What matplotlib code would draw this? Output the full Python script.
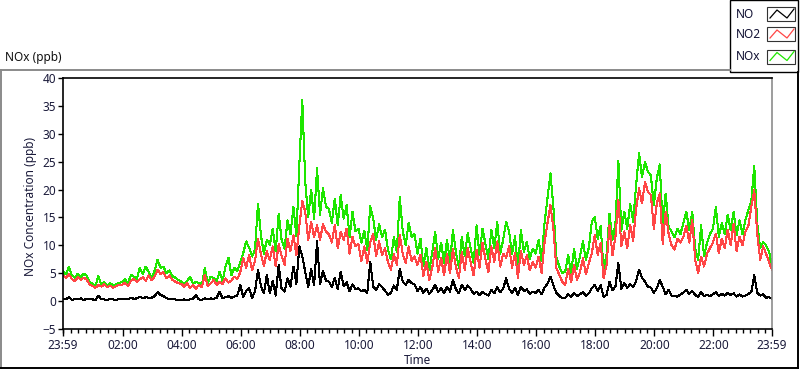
import numpy as np
import matplotlib.pyplot as plt
from matplotlib.lines import Line2D
from matplotlib.patches import Rectangle

plt.rcParams['font.family'] = ['Noto Sans', 'DejaVu Sans']

# one reading every 6 minutes, starting 23:59 the evening before
step_min = 6

# NO2 (ppb), one row per hour
no2_ppb = [
    4.6, 4.2, 4.8, 4.0, 3.6, 4.3, 3.8, 4.2, 3.9, 3.0,
    2.7, 2.4, 2.9, 2.6, 3.0, 2.5, 2.8, 2.4, 2.7, 2.9,
    2.9, 3.3, 2.7, 3.6, 4.0, 3.4, 3.9, 4.3, 3.6, 4.6,
    3.7, 4.4, 5.6, 4.9, 5.2, 4.1, 4.6, 3.8, 3.5, 3.2,
    3.1, 2.6, 3.2, 2.4, 2.8, 2.2, 2.9, 2.5, 4.7, 2.7,
    3.2, 3.8, 2.9, 3.5, 3.1, 4.1, 3.3, 3.7, 4.4, 3.9,
    5.2, 7.7, 6.0, 8.3, 5.5, 7.2, 11.2, 8.4, 6.3, 8.9,
    7.4, 9.8, 6.2, 10.2, 8.1, 6.5, 11.2, 9.0, 11.8, 8.2,
    13.5, 18.0, 16.0, 11.0, 14.2, 11.5, 13.6, 11.0, 13.8, 12.5,
    12.0, 10.5, 13.6, 9.5, 12.4, 11.0, 13.0, 8.5, 11.5, 9.8,
    10.2, 7.2, 9.8, 6.8, 10.5, 12.0, 8.0, 10.7, 8.2, 9.5,
    7.0, 5.6, 8.4, 6.5, 11.9, 8.5, 6.8, 9.8, 7.2, 8.0,
    6.5, 8.3, 4.5, 7.0, 3.8, 6.0, 9.5, 5.2, 7.8, 4.6,
    8.5, 5.0, 9.3, 6.2, 4.1, 8.8, 5.6, 9.5, 6.9, 4.6,
    9.2, 6.0, 10.5, 7.5, 5.2, 9.8, 7.0, 10.7, 6.2, 8.5,
    7.8, 9.9, 6.0, 8.6, 4.2, 9.0, 6.4, 8.2, 5.5, 7.0,
    6.0, 8.0, 5.0, 10.5, 14.0, 17.2, 13.0, 5.9, 4.7, 3.5,
    2.9, 5.8, 3.4, 6.5, 3.8, 5.2, 7.7, 4.8, 6.8, 8.6,
    11.8, 8.3, 10.5, 4.1, 6.5, 13.6, 8.2, 11.5, 18.1, 9.8,
    12.5, 9.5, 13.6, 10.8, 16.6, 20.2, 17.5, 21.4, 19.6, 19.0,
    13.0, 17.5, 19.3, 10.3, 16.0, 12.1, 10.0, 9.2, 11.2, 10.5,
    11.5, 13.5, 10.5, 14.5, 7.4, 5.0, 8.0, 6.2, 8.5, 9.5,
    10.5, 12.1, 8.6, 11.2, 9.5, 12.8, 10.0, 13.9, 9.0, 11.5,
    10.0, 12.5, 13.5, 16.9, 19.9, 12.1, 7.4, 9.8, 8.5, 7.0,
    5.6,
]

# NOx (ppb)
nox_ppb = [
    5.3, 4.8, 6.1, 4.6, 4.2, 4.9, 4.3, 4.9, 4.6, 3.5,
    3.1, 2.8, 4.5, 2.9, 3.4, 2.8, 3.2, 2.9, 3.0, 3.3,
    3.4, 3.9, 3.2, 4.7, 4.4, 3.9, 6.0, 4.8, 6.2, 5.2,
    4.3, 5.4, 7.4, 6.0, 6.2, 5.0, 5.5, 4.5, 4.2, 3.8,
    3.5, 3.0, 3.6, 4.4, 3.2, 3.4, 3.3, 2.9, 5.9, 3.2,
    4.4, 4.1, 3.5, 5.3, 3.6, 6.2, 7.8, 4.6, 6.0, 5.4,
    7.0, 8.6, 10.7, 9.6, 8.0, 9.2, 17.5, 11.8, 8.5, 11.0,
    10.1, 13.0, 8.9, 15.7, 11.0, 9.4, 14.5, 12.0, 16.9, 11.6,
    24.4, 36.1, 21.4, 15.0, 20.0, 14.8, 23.8, 15.5, 20.2, 17.0,
    16.5, 14.0, 18.4, 13.6, 19.0, 14.8, 17.2, 11.5, 16.0, 12.5,
    13.0, 10.5, 12.6, 9.2, 17.0, 14.8, 11.0, 13.8, 11.5, 12.8,
    9.2, 7.5, 11.5, 8.8, 18.7, 12.5, 10.0, 14.0, 11.5, 12.0,
    8.5, 11.2, 6.2, 9.5, 5.5, 8.8, 12.4, 7.5, 10.5, 6.8,
    11.0, 7.0, 12.7, 8.8, 6.0, 11.5, 8.0, 12.2, 9.4, 6.8,
    13.6, 8.2, 13.0, 10.2, 7.5, 12.8, 9.5, 14.2, 8.5, 11.0,
    14.2, 12.5, 8.4, 11.6, 6.0, 12.7, 8.8, 10.6, 7.6, 9.4,
    8.5, 11.0, 7.2, 14.0, 18.5, 22.9, 16.8, 7.9, 6.2, 5.0,
    5.3, 8.3, 5.0, 9.4, 5.8, 8.0, 10.7, 7.4, 9.6, 14.2,
    15.1, 11.2, 13.5, 5.6, 8.4, 15.7, 11.0, 14.0, 25.1, 12.6,
    16.0, 13.0, 17.5, 14.2, 20.8, 26.5, 22.2, 25.0, 23.2, 22.5,
    17.2, 22.0, 24.5, 13.5, 19.3, 13.3, 12.5, 11.5, 13.0, 12.0,
    14.0, 16.0, 12.8, 16.0, 9.5, 7.4, 13.6, 8.0, 10.5, 12.0,
    13.0, 16.9, 11.5, 14.0, 12.0, 15.5, 12.8, 16.0, 11.8, 14.5,
    12.0, 14.6, 16.3, 18.0, 24.2, 14.0, 9.5, 10.6, 10.0, 8.9,
    6.2,
]

# NO (ppb)
no_ppb = [
    0.4, 0.3, 0.7, 0.2, 0.4, 0.3, 0.5, 0.2, 0.4, 0.3,
    0.3, 0.2, 1.0, 0.3, 0.3, 0.2, 0.4, 0.3, 0.2, 0.4,
    0.3, 0.4, 0.3, 0.6, 0.4, 0.5, 0.8, 0.5, 0.7, 0.6,
    0.6, 0.9, 1.6, 1.1, 0.9, 0.5, 0.4, 0.3, 0.3, 0.2,
    0.2, 0.3, 0.2, 0.3, 0.4, 1.1, 0.3, 0.2, 0.5, 0.3,
    0.5, 0.4, 0.6, 1.7, 0.5, 0.7, 0.9, 0.6, 0.8, 1.0,
    2.9, 0.8, 1.8, 2.3, 0.6, 1.7, 5.6, 2.7, 1.4, 4.7,
    1.4, 3.6, 1.0, 6.5, 2.2, 1.7, 4.1, 2.6, 6.2, 3.1,
    9.8, 8.0, 5.3, 2.5, 5.8, 2.8, 10.7, 3.0, 5.4, 3.7,
    3.5, 2.5, 4.2, 2.2, 5.3, 2.7, 3.4, 1.8, 3.0, 2.1,
    2.3, 1.8, 2.0, 1.5, 7.1, 2.6, 2.0, 3.0, 2.5, 1.9,
    1.1, 1.5, 2.8, 2.0, 5.8, 3.5, 2.9, 3.8, 3.2, 3.0,
    1.8, 2.5, 1.5, 2.2, 1.3, 2.0, 2.9, 1.6, 2.4, 1.4,
    2.6, 1.7, 3.8, 2.1, 1.4, 2.9, 2.0, 2.8, 2.2, 1.3,
    1.7, 1.1, 1.6, 1.3, 1.0, 2.0, 1.4, 2.5, 1.6, 2.2,
    4.1, 2.2, 1.5, 2.4, 1.1, 2.6, 1.8, 2.1, 1.3, 1.7,
    1.5, 2.0, 1.2, 2.4, 3.1, 4.4, 2.8, 1.5, 0.9, 0.6,
    0.6, 1.2, 0.7, 1.5, 0.9, 1.2, 1.6, 1.0, 1.4, 2.3,
    2.9, 1.8, 2.9, 0.8, 1.1, 3.5, 2.0, 2.6, 6.8, 2.2,
    3.2, 2.4, 3.0, 2.5, 3.6, 5.6, 4.2, 3.5, 2.6, 2.4,
    1.5, 2.3, 3.8, 2.6, 1.2, 2.0, 1.0, 0.9, 0.8, 1.2,
    1.5, 2.0, 1.3, 1.8, 1.1, 0.8, 1.6, 0.9, 1.1, 0.9,
    1.2, 1.6, 0.9, 1.3, 1.0, 1.5, 1.1, 1.4, 0.8, 1.2,
    0.8, 1.0, 1.3, 1.6, 4.7, 1.5, 1.0, 1.2, 0.6, 0.7,
    0.4,
]

time_labels = ['23:59', '02:00', '04:00', '06:00', '08:00', '10:00', '12:00',
               '14:00', '16:00', '18:00', '20:00', '22:00', '23:59']
series_names = ['NO', 'NO2', 'NOx']
series_colors = ['black', '#ff4646', '#1ee600']

W, H = 800, 369


def fx(px):
    return px / W


def fy(py):
    return 1 - py / H


# minutes after the 23:59 start for each label
start = 23 * 60 + 59
label_min = [(int(s[:2]) * 60 + int(s[3:]) - start) % 1440 for s in time_labels]
label_min[-1] = 1440
minor_min = np.arange(1, 1440, 15)

t = np.arange(len(nox_ppb)) * step_min

fig = plt.figure(figsize=(W / 100, H / 100), dpi=100)
ax = fig.add_axes([fx(63), 1 - 329 / H, fx(709), 251 / H])

# crisp 1px traces like the original instrument panel
ax.plot(t, nox_ppb, color=series_colors[2], lw=0.75, antialiased=False)
ax.plot(t, no2_ppb, color=series_colors[1], lw=0.75, antialiased=False)
ax.plot(t, no_ppb, color=series_colors[0], lw=0.75, antialiased=False)

ax.set_xlim(0, 1440)
ax.set_ylim(-5, 40)
ax.set_yticks(range(-5, 41, 5))
ax.set_xticks(label_min)
ax.set_xticklabels(time_labels)
ax.set_xticks(minor_min, minor=True)

tick_col = '#1a1a3a'
ax.tick_params(axis='x', which='major', length=5, width=1, pad=2,
               labelsize=8.5, labelcolor=tick_col)
ax.tick_params(axis='x', which='minor', length=3, width=1)
ax.tick_params(axis='y', length=3.5, width=1, pad=1.5,
               labelsize=8.5, labelcolor=tick_col)

for side in ['top', 'left', 'bottom']:
    ax.spines[side].set_color('black')
    ax.spines[side].set_linewidth(1.2)
ax.spines['right'].set_color('#8c8c8c')
ax.spines['right'].set_linewidth(1.2)

fig.text(fx(5), fy(58), 'NOx (ppb)', ha='left', va='center', fontsize=8.5,
         color='#111111')
fig.text(fx(31), fy(207), 'NOx Concentration (ppb)', rotation=90,
         ha='center', va='center', fontsize=8.5, color=tick_col)
fig.text(fx(418), fy(361), 'Time', ha='center', va='center', fontsize=8.5,
         color=tick_col)

# outer panel frame
fig.add_artist(Line2D([fx(0), fx(730)], [fy(69.5), fy(69.5)], color='#8a8a8a', lw=1.4))
fig.add_artist(Line2D([fx(0.7), fx(0.7)], [fy(69.5), fy(369)], color='#8a8a8a', lw=1.4))
fig.add_artist(Line2D([fx(0), fx(798)], [fy(368), fy(368)], color='black', lw=1.4))
fig.add_artist(Line2D([fx(798), fx(798)], [fy(72), fy(368)], color='black', lw=1.4))

# legend box, top right
fig.add_artist(Rectangle((fx(730), fy(72)), fx(68), 72 / H, transform=fig.transFigure,
                         facecolor='white', edgecolor='black', lw=1.0))
icon_y = [14, 34, 56.5]
for name, col, yc in zip(series_names, series_colors, icon_y):
    fig.text(fx(736), fy(yc), name, ha='left', va='center', fontsize=8.5,
             color='#111133')
    fig.add_artist(Rectangle((fx(767), fy(yc + 7)), fx(28), 14 / H,
                             transform=fig.transFigure, facecolor='white',
                             edgecolor='#333333', lw=0.8))
    fig.add_artist(Line2D([fx(770), fx(777), fx(787), fx(794)],
                          [fy(yc + 4), fy(yc - 4), fy(yc + 4), fy(yc - 5)],
                          color=col, lw=0.9))

fig.savefig('out.png', dpi=100)
